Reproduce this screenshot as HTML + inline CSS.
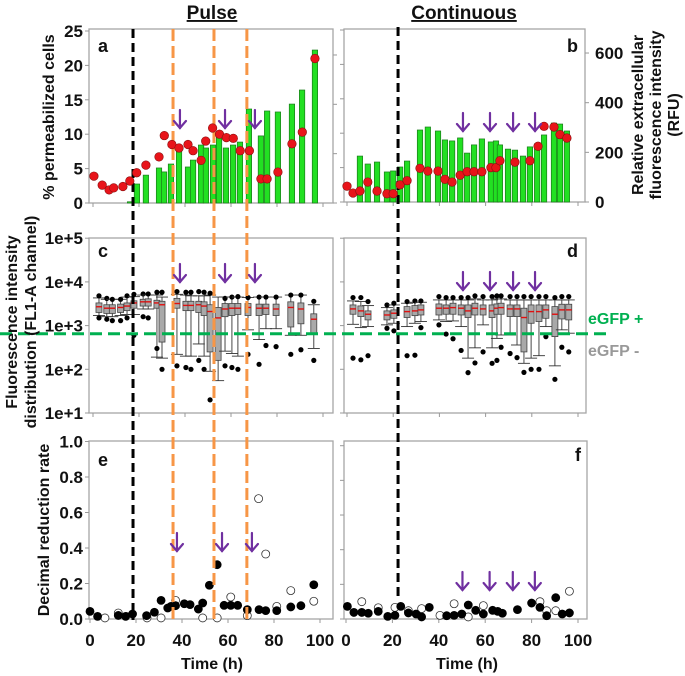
<!DOCTYPE html>
<html><head><meta charset="utf-8"><style>
html,body{margin:0;padding:0;background:#fff}
svg{display:block;font-family:"Liberation Sans",Arial,sans-serif}
</style></head><body>
<svg id="fig" width="685" height="676" viewBox="0 0 685 676" xmlns="http://www.w3.org/2000/svg"></svg>
<script>
// ---------- DATA ----------
const xTicks=[0,20,40,60,80,100];
const pctTicks=[0,5,10,15,20,25];
const rfuTicks=[0,200,400,600];
const logTicks=[10,100,1000,10000,100000];
const logTickLabels=["1e+1","1e+2","1e+3","1e+4","1e+5"];
const drrTicks=[0,0.2,0.4,0.6,0.8,1.0];
const drrTickLabels=["0.0","0.2","0.4","0.6","0.8","1.0"];
// panel a
const aBarT=[16.1,19.1,23,28.7,30.9,33.9,37.4,41.3,43.5,47,49.1,52.2,54.8,57.8,60.9,63.9,67.8,73,75.7,80.4,86.5,90.9,96.5];
const aBarV=[5,77,113,142,126,158,219,146,174,235,223,235,272,223,235,247,381,272,373,369,401,458,620];
const aDotT=[0.4,4,7,9,13,16,19,23,28.7,31,34.3,37.4,41.3,43.5,47,49,52,55,58,61,64,68,73,75.7,80.4,86.5,91,96.5];
const aDotV=[3.9,2.6,1.9,2.2,2.4,3.2,4.4,5.5,6.7,9.8,8.5,8.0,8.5,7.6,6.2,9.0,10.9,10,9.5,9.4,7.6,7.6,3.5,3.5,4.5,8.6,10.3,21.0];
// panel b
const bBarT=[5.6,9,13,17.3,20,23,26,31.6,35,39.4,42.4,45.5,49,52,55,58.4,62.3,64.5,66.2,69.7,72.7,76.2,79.2,82.3,85.3,89.6,92.2,95.2];
const bBarV=[185,153,161,121,125,141,165,290,302,286,250,246,258,197,230,254,242,246,230,213,209,185,222,234,270,318,314,286];
const bDotT=[0,2.6,5.6,9,13,17.3,20,23,26,31.6,35,39.4,42.4,45.5,49,52,55,58.4,62.3,64.5,66.2,72.7,79.2,82.7,85.3,89.6,92.2,95.2];
const bDotV=[2.3,1.3,1.6,2.9,1.6,1.2,1.2,2.5,3.1,4.9,4.5,4.5,3.3,2.9,3.9,4.4,4.4,4.4,5.0,5.0,6.0,5.8,6.0,8.1,11.0,10.9,9.8,9.3];
// panel c boxes
const cT=[2.6,6,8.4,12,14.8,17.8,21.8,24,27.8,30,36.5,40.4,42.6,46,48.3,50.9,54.4,57.4,60.4,63,67.4,72.2,75.2,79.6,86,90.4,96];
const cLo=[1700,1600,1600,1700,1800,1800,2400,2400,190,180,220,200,200,380,200,90,55,260,230,200,800,480,850,850,600,600,300];
const cQ1=[2000,1900,1900,2000,2200,2500,2800,2800,2500,420,2500,2200,2200,2000,1700,250,160,1600,1700,1800,1700,1700,1800,1700,930,1100,650];
const cMed=[2700,2500,2500,2600,2800,3300,3500,3500,3300,3000,3200,2900,2900,3000,2800,2100,1500,2400,2500,2500,2600,2500,2500,2400,2600,2400,1400];
const cQ3=[3300,3000,3000,3100,3300,3700,4000,4100,3800,3600,4200,3600,3600,3600,3500,3000,2600,3200,3200,3200,3200,3100,3100,3100,3500,3300,1860];
const cHi=[4300,4000,4000,4000,4500,4600,5000,5000,5000,4500,5200,5000,4800,4800,4800,5000,4500,4500,4500,4500,4400,4500,4500,4500,5000,5000,3000];
const cDotLo=[1500,1400,1300,1300,1500,600,1600,1500,300,100,120,110,100,160,100,20,0,120,110,100,220,130,350,330,220,280,160];
const cDotHi=[4800,4200,4000,4000,4800,5200,5300,5300,5800,5800,6000,5800,5800,6000,5800,5500,0,4200,4500,4600,4400,4500,4500,4500,5000,5000,3600];
// panel d boxes
const dT=[2.6,6,9.1,17.3,20.3,26,29.4,32,39.8,42.9,45.9,49.4,52.4,55.4,58.9,62.8,64.9,66.7,70.6,73.6,76.6,79.7,83.1,86.1,90,93,96];
const dLo=[1070,900,950,1040,1130,950,1130,1240,1350,1240,1280,950,180,310,1040,310,510,610,610,360,137,180,205,950,120,800,670];
const dQ1=[1820,1610,1350,1350,1470,1530,1690,1750,1750,1820,1820,1750,1530,1750,1750,1530,1820,1820,1610,1610,250,1130,1240,1470,560,1420,1350];
const dMed=[2410,2170,1820,1750,1920,2090,2170,2290,2500,2500,2580,2500,2170,2500,2410,2170,2500,2580,2410,2410,1530,2090,2090,2290,1820,2290,2290];
const dQ3=[2970,2820,2170,2170,2290,2720,2870,2970,3130,2970,3250,2970,2970,3250,2970,2970,3130,3250,2970,2970,2500,2970,2970,2970,2720,3080,3080];
const dHi=[3670,3550,2870,2580,2970,3250,3420,3420,3870,3870,3870,3870,3870,4080,3870,3870,4080,4080,3870,3870,3870,3870,3870,3870,3870,3870,3870];
const dDotLo=[180,165,205,870,760,205,210,900,1040,640,500,270,84,140,250,137,160,320,230,185,85,100,100,560,59,320,250];
const dDotHi=[4380,4380,3550,2970,3250,3550,3670,3670,4610,4380,4380,4380,4380,4780,4610,4610,4780,4780,4610,4610,4610,4610,4610,4610,4380,4610,4610];
// panel e
const eFilledT=[0,3.3,12.3,15.5,18.5,24.6,28,30.9,33.8,35.2,37.2,41,43.5,47.1,49,51.9,55.3,58.3,61.2,64.2,68.4,73.5,76.4,81.2,87.3,91.7,97.3];
const eFilledV=[0.043,0.015,0.02,0.015,0.028,0.019,0.038,0.105,0.062,0.071,0.075,0.086,0.081,0.056,0.09,0.19,0.306,0.077,0.077,0.077,0.053,0.053,0.047,0.047,0.068,0.075,0.193];
const eOpenT=[6.5,12.3,24.8,30.9,37.2,49,55.3,61.2,68.4,73.3,76.4,81.2,87.3,97.3];
const eOpenV=[0.006,0.034,0.006,0.006,0.105,0.006,0.006,0.124,0.019,0.678,0.366,0.071,0.16,0.1];
// panel f
const fFilledT=[0.6,3.4,6.8,9.6,13.9,18,21.1,23.6,26.9,30.2,32.6,35.9,43.4,46.6,49.9,52.7,55.9,59.2,63.2,65.4,67.4,73.9,80,83.6,86.5,90.4,93.2,96.3];
const fFilledV=[0.073,0.038,0.038,0.033,0.044,0.015,0.021,0.073,0.035,0.029,0.012,0.067,0.019,0.021,0.029,0.081,0.05,0.029,0.05,0.044,0.033,0.054,0.092,0.067,0.019,0.123,0.029,0.035];
const fOpenT=[6.8,13.9,21.1,26.9,32.6,40.5,46.6,52.7,59.2,83.6,86.5,90.4,96.3];
const fOpenV=[0.1,0.065,0.067,0.048,0.06,0.021,0.088,0.012,0.077,0.1,0.048,0.048,0.16];
// events
const pulseStartT=[17.4];
const pulseT=[34.8,52.6,66.9];
const pulseArrowT=[37.8,57.4,70.4];
const contStartT=[22.1];
const contArrowT=[50.2,61.9,71.9,81.4];
const eGFPThreshold=[650];

// ---------- SCALES ----------
const xA=t=>93+t*2.3, xB=t=>347+t*2.31, xE=t=>90+t*2.3, xF=t=>346+t*2.32;
const pctA=v=>203-v*6.88, pctB=v=>202-v*6.88;
const rfuA=v=>203-v*0.2467, rfuB=v=>202-v*0.2483;
const logY=v=>413-(Math.log10(v)-1)*43.7;
const drrE=v=>619-v*177.5, drrF=v=>619-v*173.3;

const svg=document.getElementById('fig');
const NS='http://www.w3.org/2000/svg';
function mk(tag,attrs,parent){const el=document.createElementNS(NS,tag);for(const k in attrs)el.setAttribute(k,attrs[k]);(parent||svg).appendChild(el);return el;}
function txt(s,attrs,parent){const el=mk('text',attrs,parent);el.textContent=s;return el;}
const BOLD={'font-weight':'bold','fill':'#111'};

// ---------- FRAMES ----------
const frames=[['a',89,29,333,203],['b',344,29,585,202],['c',89,238,333,413],['d',344,238,586,413],['e',89,441,333,619],['f',344,441,587,619]];
frames.forEach(f=>{
  const r=mk('rect',{x:f[1],y:f[2],width:f[3]-f[1],height:f[4]-f[2],fill:'none',stroke:'#a6a6a6','stroke-width':1.3});
  
  
});

function xTickMarks(sc,yb,panel,labels){
  xTicks.forEach(t=>{
    const l=mk('line',{x1:sc(t),x2:sc(t),y1:yb,y2:yb+4,stroke:'#999','stroke-width':1});
    
    
    if(labels){
      const tl=txt(String(t),Object.assign({x:sc(t),y:yb+27,'text-anchor':'middle','font-size':17},BOLD));
      
      
    }
  });
}
xTickMarks(xA,203,'a',false);xTickMarks(xB,202,'b',false);
xTickMarks(xA,413,'c',false);xTickMarks(xB,413,'d',false);
xTickMarks(xE,619,'e',true);xTickMarks(xF,619,'f',true);

function yTicks(vals,labs,sc,xAxis,panel,side){
  vals.forEach((v,i)=>{
    const y=sc(v);
    const l=mk('line',{x1:side==='L'?xAxis-4:xAxis,x2:side==='L'?xAxis:xAxis+4,y1:y,y2:y,stroke:'#999'});
    
    
    if(labs){
      const t=txt(labs[i],Object.assign({x:side==='L'?xAxis-6:xAxis+10,y:y+6,'text-anchor':side==='L'?'end':'start','font-size':17},BOLD));
      
      
    }
  });
}
yTicks(pctTicks,pctTicks.map(String),pctA,89,'a','L');
yTicks(rfuTicks,null,rfuA,333,'a-right','R');
yTicks(pctTicks,null,pctB,344,'b-left','L');
yTicks(rfuTicks,rfuTicks.map(String),rfuB,585,'b','R');
yTicks(logTicks,logTickLabels,logY,89,'c','L');
yTicks(logTicks,null,logY,344,'d','L');
yTicks(drrTicks,drrTickLabels,drrE,89,'e','L');
yTicks(drrTicks,null,drrF,344,'f','L');

// ---------- BARS + DOTS ----------
function bars(T,V,xs,ys,panel){
  T.forEach((t,i)=>{
    const y=ys(V[i]),b=ys(0);
    const r=mk('rect',{x:xs(t)-2.7,y:y,width:5.4,height:b-y,fill:'#22e022',stroke:'#1a7a1a','stroke-width':0.7});
    
    
  });
}
function reds(T,V,xs,ys,panel){
  T.forEach((t,i)=>{
    const c=mk('circle',{cx:xs(t),cy:ys(V[i]),r:4.3,fill:'#e8141a',stroke:'#8a1010','stroke-width':0.6});
    
    
  });
}
bars(aBarT,aBarV,xA,rfuA,'a');
bars(bBarT,bBarV,xB,rfuB,'b');

// ---------- BOXES ----------
function boxes(T,lo,q1,md,q3,hi,dl,dh,xs,panel){
  T.forEach((t,i)=>{
    const x=xs(t);
    const g=mk('g',{});
    
    
    mk('line',{x1:x,x2:x,y1:logY(hi[i]),y2:logY(lo[i]),stroke:'#333','stroke-width':0.9},g);
    mk('line',{x1:x-6,x2:x+6,y1:logY(hi[i]),y2:logY(hi[i]),stroke:'#333','stroke-width':0.9},g);
    mk('line',{x1:x-6,x2:x+6,y1:logY(lo[i]),y2:logY(lo[i]),stroke:'#333','stroke-width':0.9},g);
    mk('rect',{x:x-3,y:logY(q3[i]),width:6,height:logY(q1[i])-logY(q3[i]),fill:'#a9a9a9',stroke:'#444','stroke-width':0.8},g);
    mk('line',{x1:x-3,x2:x+3,y1:logY(md[i]),y2:logY(md[i]),stroke:'#e01010','stroke-width':1.4},g);
    if(dl[i]>0)mk('circle',{cx:x,cy:logY(dl[i]),r:2.6,fill:'#000'},g);
    if(dh[i]>0)mk('circle',{cx:x,cy:logY(dh[i]),r:2.6,fill:'#000'},g);
  });
}
boxes(cT,cLo,cQ1,cMed,cQ3,cHi,cDotLo,cDotHi,xA,'c');
boxes(dT,dLo,dQ1,dMed,dQ3,dHi,dDotLo,dDotHi,xB,'d');

// ---------- SCATTER e/f ----------
function pts(T,V,xs,ys,filled,panel){
  T.forEach((t,i)=>{
    const c=mk('circle',{cx:xs(t),cy:ys(V[i]),r:4,fill:filled?'#000':'#fff',stroke:filled?'#000':'#333','stroke-width':0.8});
    
    
  });
}
pts(eOpenT,eOpenV,xE,drrE,false,'e');pts(eFilledT,eFilledV,xE,drrE,true,'e');
pts(fOpenT,fOpenV,xF,drrF,false,'f');pts(fFilledT,fFilledV,xF,drrF,true,'f');

// ---------- EVENT LINES ----------
pulseStartT.forEach(t=>{
  const l=mk('line',{x1:xA(t),x2:xA(t),y1:29,y2:620,stroke:'#000','stroke-width':3,'stroke-dasharray':'9,5'});
  
  
});
pulseT.forEach(t=>{
  const l=mk('line',{x1:xA(t),x2:xA(t),y1:29,y2:620,stroke:'#f79646','stroke-width':3,'stroke-dasharray':'12,5'});
  
  
});
contStartT.forEach(t=>{
  const l=mk('line',{x1:xB(t),x2:xB(t),y1:27,y2:598,stroke:'#000','stroke-width':3,'stroke-dasharray':'9,5'});
  
  
});
reds(aDotT,aDotV,xA,pctA,'a');
reds(bDotT,bDotV,xB,pctB,'b');

eGFPThreshold.forEach(v=>{
  const l=mk('line',{x1:0,x2:612,y1:logY(v),y2:logY(v),stroke:'#00b050','stroke-width':3,'stroke-dasharray':'12,6'});
  
  
});

function arrows(T,xs,y0,panel){
  T.forEach(t=>{
    const x=xs(t);
    const g=mk('g',{stroke:'#7030a0','stroke-width':2.2,fill:'none','stroke-linecap':'round'});
    
    
    mk('line',{x1:x,x2:x,y1:y0,y2:y0+18},g);
    mk('polyline',{points:(x-6)+','+(y0+11)+' '+x+','+(y0+18)+' '+(x+6)+','+(y0+11)},g);
  });
}
arrows(pulseArrowT,xA,110,'a');arrows(pulseArrowT,xA,264,'c');arrows(pulseArrowT,xE,533,'e');
arrows(contArrowT,xB,113,'b');arrows(contArrowT,xB,272,'d');arrows(contArrowT,xF,572,'f');

// ---------- TEXT ----------
function label(s,attrs,name){const t=txt(s,attrs);return t;}
label('Pulse',Object.assign({x:212,y:19,'text-anchor':'middle','font-size':19,'text-decoration':'underline'},BOLD),'pulse-title');
label('Continuous',Object.assign({x:464,y:19,'text-anchor':'middle','font-size':19,'text-decoration':'underline'},BOLD),'continuous-title');
label('a',Object.assign({x:98,y:52,'font-size':18},BOLD),'panel-a-label');
label('b',Object.assign({x:567,y:52,'font-size':18},BOLD),'panel-b-label');
label('c',Object.assign({x:98,y:257,'font-size':18},BOLD),'panel-c-label');
label('d',Object.assign({x:567,y:257,'font-size':18},BOLD),'panel-d-label');
label('e',Object.assign({x:98,y:466,'font-size':18},BOLD),'panel-e-label');
label('f',Object.assign({x:575,y:461,'font-size':18},BOLD),'panel-f-label');
label('eGFP +',{x:588,y:324,'font-size':16,'font-weight':'bold',fill:'#00b050'},'egfp-positive-label');
label('eGFP -',{x:588,y:356,'font-size':16,'font-weight':'bold',fill:'#999'},'egfp-negative-label');
label('Time (h)',Object.assign({x:212,y:669,'text-anchor':'middle','font-size':16},BOLD),'x-axis-title-e');
label('Time (h)',Object.assign({x:467,y:669,'text-anchor':'middle','font-size':16},BOLD),'x-axis-title-f');
label('% permeabilized cells',Object.assign({x:0,y:0,'text-anchor':'middle','font-size':16,transform:'translate(54,117) rotate(-90)'},BOLD),'y-axis-title-a');
label('Fluorescence intensity',Object.assign({x:0,y:0,'text-anchor':'middle','font-size':16,transform:'translate(17,322) rotate(-90)'},BOLD),'y-axis-title-c-line1');
label('distribution (FL1-A channel)',Object.assign({x:0,y:0,'text-anchor':'middle','font-size':16,transform:'translate(36,322) rotate(-90)'},BOLD),'y-axis-title-c-line2');
label('Decimal reduction rate',Object.assign({x:0,y:0,'text-anchor':'middle','font-size':16,transform:'translate(49,530) rotate(-90)'},BOLD),'y-axis-title-e');
label('Relative extracellular',Object.assign({x:0,y:0,'text-anchor':'middle','font-size':16,transform:'translate(643,115) rotate(-90)'},BOLD),'y-axis-title-b-line1');
label('fluorescence intensity',Object.assign({x:0,y:0,'text-anchor':'middle','font-size':16,transform:'translate(661,115) rotate(-90)'},BOLD),'y-axis-title-b-line2');
label('(RFU)',Object.assign({x:0,y:0,'text-anchor':'middle','font-size':16,transform:'translate(679,115) rotate(-90)'},BOLD),'y-axis-title-b-line3');
</script>
</body></html>
